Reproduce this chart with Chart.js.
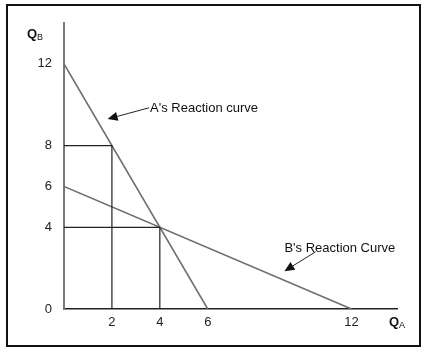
<!DOCTYPE html>
<html>
<head>
<meta charset="utf-8">
<script src="https://cdn.jsdelivr.net/npm/chart.js@4.4.1/dist/chart.umd.min.js"></script>
<style>
  html, body { margin: 0; padding: 0; background: #fff; }
  #wrap { width: 430px; height: 356px; position: relative; }
</style>
</head>
<body>
<div id="wrap"><canvas id="c" width="430" height="356"></canvas></div>
<script>
// ---- data ----
const xTicks = [2, 4, 6, 12];
const yTicks = [0, 4, 6, 8, 12];
const reactionA = [{x: 0, y: 12}, {x: 6, y: 0}];   // A's reaction curve
const reactionB = [{x: 0, y: 6}, {x: 12, y: 0}];   // B's reaction curve
const guide1 = [{x: 0, y: 8}, {x: 2, y: 8}, {x: 2, y: 0}];
const guide2 = [{x: 0, y: 4}, {x: 4, y: 4}, {x: 4, y: 0}];
const labelA = {text: "A's Reaction curve", at: {x: 3.55, y: 9.8}, tip: {x: 1.82, y: 9.3}};
const labelB = {text: "B's Reaction Curve", at: {x: 9.2, y: 2.98}, from: {x: 10.5, y: 2.8}, tip: {x: 9.2, y: 1.85}};

const FONT = '"Liberation Sans", Arial, sans-serif';

const deco = {
  id: 'deco',
  afterDraw(chart) {
    const ctx = chart.ctx, xs = chart.scales.x, ys = chart.scales.y;
    const px = p => ({x: xs.getPixelForValue(p.x), y: ys.getPixelForValue(p.y)});
    ctx.save();
    // frame
    ctx.strokeStyle = '#111';
    ctx.lineWidth = 2;
    ctx.strokeRect(7, 5, 413, 341);
    // axis titles
    ctx.fillStyle = '#111';
    ctx.textBaseline = 'alphabetic';
    ctx.font = 'bold 13px ' + FONT;
    ctx.fillText('Q', 27, 38);
    ctx.font = '9px ' + FONT;
    ctx.fillText('B', 37, 40);
    ctx.font = 'bold 13px ' + FONT;
    ctx.fillText('Q', 389, 326);
    ctx.font = '9px ' + FONT;
    ctx.fillText('A', 399, 328);
    // annotations
    ctx.font = '13px ' + FONT;
    ctx.textBaseline = 'middle';
    ctx.fillStyle = '#111';
    const a = px(labelA.at);
    ctx.fillText(labelA.text, a.x + 1, a.y);
    arrow(ctx, {x: a.x, y: a.y - 1}, px(labelA.tip));
    const b = px(labelB.at);
    ctx.fillText(labelB.text, b.x, b.y);
    arrow(ctx, px(labelB.from), px(labelB.tip));
    ctx.restore();
  }
};

function arrow(ctx, from, to) {
  const ang = Math.atan2(to.y - from.y, to.x - from.x);
  const L = 10, W = 4.5;
  const bx = to.x - L * Math.cos(ang), by = to.y - L * Math.sin(ang);
  ctx.strokeStyle = '#222';
  ctx.lineWidth = 1;
  ctx.beginPath();
  ctx.moveTo(from.x, from.y);
  ctx.lineTo(bx, by);
  ctx.stroke();
  ctx.fillStyle = '#111';
  ctx.beginPath();
  ctx.moveTo(to.x, to.y);
  ctx.lineTo(bx + W * Math.sin(ang), by - W * Math.cos(ang));
  ctx.lineTo(bx - W * Math.sin(ang), by + W * Math.cos(ang));
  ctx.closePath();
  ctx.fill();
}

const lineDs = (data, color, w) => ({
  data, showLine: true, borderColor: color, borderWidth: w,
  pointRadius: 0, pointHoverRadius: 0, fill: false, tension: 0
});

new Chart(document.getElementById('c'), {
  type: 'scatter',
  data: {
    datasets: [
      lineDs(guide1, '#222', 1.2),
      lineDs(guide2, '#222', 1.2),
      lineDs(reactionA, '#6e6e6e', 1.6),
      lineDs(reactionB, '#6e6e6e', 1.6)
    ]
  },
  options: {
    responsive: false,
    animation: false,
    events: [],
    layout: { padding: { left: 0, top: 23, right: 33, bottom: 0 } },
    plugins: { legend: { display: false }, tooltip: { enabled: false } },
    scales: {
      x: {
        type: 'linear', min: 0, max: 13.9,
        afterBuildTicks: s => { s.ticks = xTicks.map(v => ({value: v})); },
        afterFit: s => { s.height = 47; },
        grid: { display: false, drawTicks: false },
        border: { display: true, color: '#222', width: 1.5 },
        ticks: { color: '#222', font: { family: FONT, size: 13 }, padding: 6, autoSkip: false, maxRotation: 0 }
      },
      y: {
        type: 'linear', min: 0, max: 14,
        afterBuildTicks: s => { s.ticks = yTicks.map(v => ({value: v})); },
        afterFit: s => { s.width = 64; },
        grid: { display: false, drawTicks: false },
        border: { display: true, color: '#777', width: 2 },
        ticks: { color: '#222', font: { family: FONT, size: 13 }, padding: 12, autoSkip: false }
      }
    }
  },
  plugins: [deco]
});
</script>
</body>
</html>
